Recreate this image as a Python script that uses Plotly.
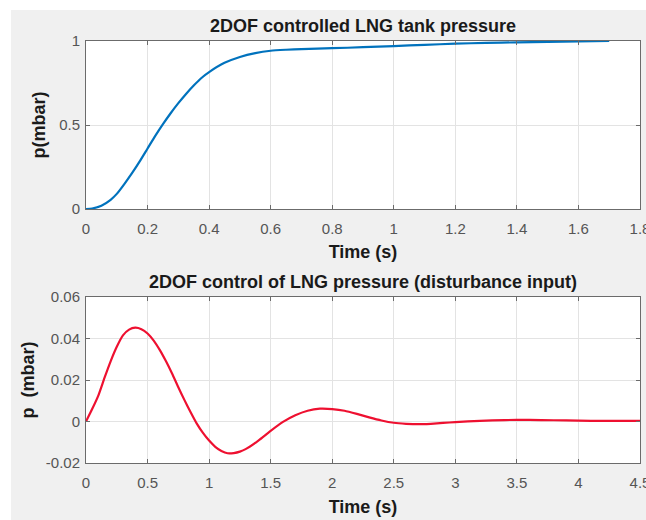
import plotly.graph_objects as go
from plotly.subplots import make_subplots

# Top: 2DOF controlled LNG tank pressure (step response)
t_top = [0, 0.02, 0.05, 0.08, 0.1, 0.125, 0.15, 0.175, 0.2, 0.225, 0.25, 0.275, 0.3, 0.325, 0.35,
         0.375, 0.4, 0.45, 0.5, 0.55, 0.6, 0.65, 0.7, 0.8, 0.9, 1.0, 1.1, 1.2, 1.3, 1.4, 1.5, 1.6, 1.7]
p_top = [0, 0.003, 0.02, 0.055, 0.09, 0.15, 0.215, 0.285, 0.36, 0.435, 0.505, 0.57, 0.63, 0.685, 0.735,
         0.78, 0.815, 0.87, 0.905, 0.928, 0.942, 0.948, 0.952, 0.957, 0.963, 0.97, 0.977, 0.984, 0.989,
         0.992, 0.995, 0.998, 1.0]

# Bottom: disturbance input response
t_bot = [0, 0.05, 0.1, 0.15, 0.2, 0.25, 0.3, 0.35, 0.4, 0.45, 0.5, 0.55, 0.6, 0.65, 0.7, 0.75, 0.8,
         0.85, 0.9, 0.95, 1.0, 1.05, 1.1, 1.15, 1.2, 1.25, 1.3, 1.4, 1.5, 1.6, 1.7, 1.8, 1.9, 2.0,
         2.1, 2.2, 2.3, 2.4, 2.5, 2.6, 2.7, 2.8, 2.9, 3.0, 3.2, 3.4, 3.6, 3.8, 4.0, 4.2, 4.5]
p_bot = [0, 0.006, 0.0125, 0.021, 0.029, 0.036, 0.0415, 0.0443, 0.0452, 0.0445, 0.0424, 0.039, 0.0344,
         0.029, 0.023, 0.0165, 0.0103, 0.0045, -0.001, -0.0055, -0.0092, -0.0122, -0.0142, -0.0153,
         -0.0152, -0.0145, -0.0132, -0.0092, -0.0045, -0.0002, 0.003, 0.0052, 0.0062, 0.006, 0.0052,
         0.0037, 0.002, 0.0005, -0.0006, -0.0011, -0.0013, -0.0011, -0.0007, -0.0003, 0.0003, 0.0007,
         0.0008, 0.0006, 0.0004, 0.0003, 0.0003]

x_ticks_top = [0, 0.2, 0.4, 0.6, 0.8, 1, 1.2, 1.4, 1.6, 1.8]
x_ticklabels_top = ["0", "0.2", "0.4", "0.6", "0.8", "1", "1.2", "1.4", "1.6", "1.8"]
y_ticks_top = [0, 0.5, 1]
y_ticklabels_top = ["0", "0.5", "1"]
x_ticks_bot = [0, 0.5, 1, 1.5, 2, 2.5, 3, 3.5, 4, 4.5]
x_ticklabels_bot = ["0", "0.5", "1", "1.5", "2", "2.5", "3", "3.5", "4", "4.5"]
y_ticks_bot = [-0.02, 0, 0.02, 0.04, 0.06]
y_ticklabels_bot = ["-0.02", "0", "0.02", "0.04", "0.06"]

W, H = 646, 520
ml, mr, mt, mb = 86, 6, 41, 57
pw = W - ml - mr
ph = H - mt - mb
top_dom = [(463 - 209) / ph, 1.0]
bot_dom = [0.0, (463 - 297) / ph]

fig = make_subplots(rows=2, cols=1)
fig.add_trace(go.Scatter(x=t_top, y=p_top, mode="lines", line=dict(color="#0072BD", width=2.2,
                         shape="spline", smoothing=0.6), showlegend=False), row=1, col=1)
fig.add_trace(go.Scatter(x=t_bot, y=p_bot, mode="lines", line=dict(color="#EE1030", width=2.2,
                         shape="spline", smoothing=0.6), showlegend=False), row=2, col=1)

tickfont = dict(family="Liberation Sans, Arial, sans-serif", size=15, color="#555555")
titlefont = dict(family="Liberation Sans, Arial, sans-serif", size=18, color="#1a1a1a")
axis_common = dict(showline=True, linecolor="#6b6b6b", linewidth=1, mirror="ticks",
                   ticks="inside", ticklen=4, tickcolor="#6b6b6b", showgrid=True,
                   gridcolor="#e3e3e3", gridwidth=1, zeroline=False, tickfont=tickfont,
                   ticklabeloverflow="allow", automargin=False)

fig.update_xaxes(**axis_common, range=[0, 1.8], tickvals=x_ticks_top, ticktext=x_ticklabels_top,
                 domain=[0, 1], ticklabelstandoff=6,
                 title=dict(text="<b>Time (s)</b>", font=titlefont, standoff=9),
                 row=1, col=1)
fig.update_yaxes(**axis_common, range=[0, 1], tickvals=y_ticks_top, ticktext=y_ticklabels_top,
                 domain=top_dom, ticklabelstandoff=2,
                 title=dict(text="<b>p(mbar)</b>", font=titlefont, standoff=8),
                 row=1, col=1)
fig.update_xaxes(**axis_common, range=[0, 4.5], tickvals=x_ticks_bot, ticktext=x_ticklabels_bot,
                 domain=[0, 1], ticklabelstandoff=6,
                 title=dict(text="<b>Time (s)</b>", font=titlefont, standoff=10),
                 row=2, col=1)
fig.update_yaxes(**axis_common, range=[-0.02, 0.06], tickvals=y_ticks_bot, ticktext=y_ticklabels_bot,
                 domain=bot_dom, ticklabelstandoff=2,
                 title=dict(text="<b>p  (mbar)</b>", font=titlefont, standoff=6),
                 row=2, col=1)

fig.add_annotation(text="<b>2DOF controlled LNG tank pressure</b>", xref="paper", yref="paper",
                   x=0.5, y=top_dom[1] + 3 / ph, xanchor="center", yanchor="bottom",
                   showarrow=False, font=titlefont)
fig.add_annotation(text="<b>2DOF control of LNG pressure (disturbance input)</b>", xref="paper",
                   yref="paper", x=0.5, y=bot_dom[1] + 3 / ph, xanchor="center", yanchor="bottom",
                   showarrow=False, font=titlefont)

# white strips at left and top edges of the picture
fig.add_shape(type="rect", xref="paper", yref="paper", x0=-ml / pw, x1=(11 - ml) / pw,
              y0=-mb / ph, y1=(ph + mt) / ph, fillcolor="white", line_width=0, layer="above")
fig.add_shape(type="rect", xref="paper", yref="paper", x0=-ml / pw, x1=(pw + mr) / pw,
              y0=(ph + mt - 10) / ph, y1=(ph + mt) / ph, fillcolor="white", line_width=0, layer="above")

fig.update_layout(width=W, height=H, margin=dict(l=ml, r=mr, t=mt, b=mb, autoexpand=False),
                  paper_bgcolor="#f0f0f0", plot_bgcolor="white", showlegend=False)

fig.write_html("out.html")
